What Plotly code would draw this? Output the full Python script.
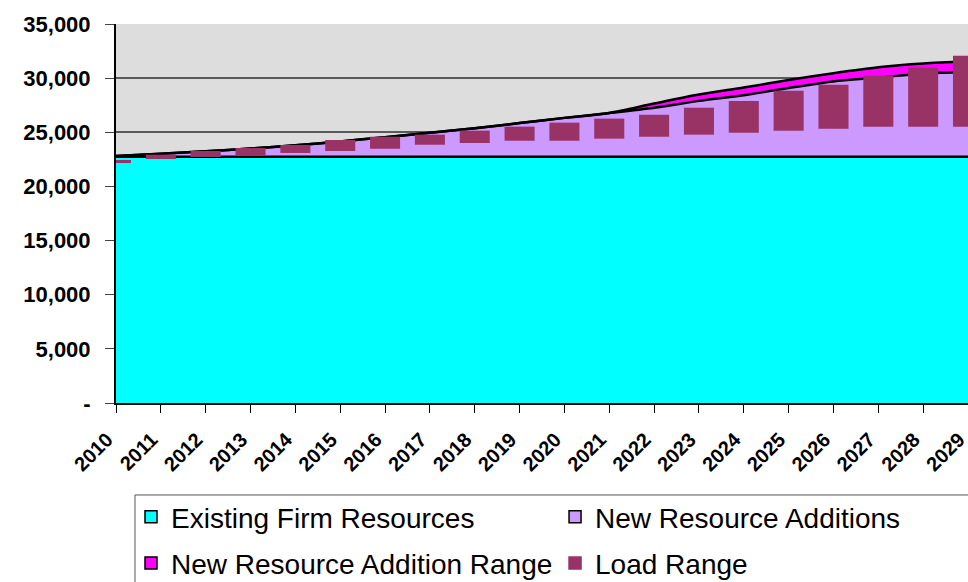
import numpy as np
import plotly.graph_objects as go

years = ["2010", "2011", "2012", "2013", "2014", "2015", "2016", "2017", "2018", "2019",
         "2020", "2021", "2022", "2023", "2024", "2025", "2026", "2027", "2028", "2029"]

existing_firm = [22750, 22750, 22750, 22750, 22750, 22750, 22750, 22750, 22750, 22750,
                 22750, 22750, 22750, 22750, 22750, 22750, 22750, 22750, 22750, 22750]
new_additions = [50, 270, 500, 750, 1050, 1400, 1800, 2200, 2630, 3100,
                 3580, 4030, 4520, 5150, 5670, 6350, 6950, 7300, 7680, 7820]
addition_range = [0, 0, 0, 0, 0, 0, 0, 0, 0, 0,
                  0, 0, 380, 580, 710, 720, 750, 950, 920, 980]
load_low = [22160, 22530, 22720, 22900, 23090, 23270, 23480, 23850, 24010, 24220,
            24220, 24410, 24590, 24780, 24960, 25150, 25330, 25520, 25520, 25520]
load_high = [22440, 22930, 23270, 23550, 23830, 24290, 24590, 24780, 25150, 25520,
             25890, 26260, 26620, 27270, 27900, 28840, 29400, 30230, 30960, 32070]

y_ticks = [0, 5000, 10000, 15000, 20000, 25000, 30000, 35000]
y_ticktext = ["-", "5,000", "10,000", "15,000", "20,000", "25,000", "30,000", "35,000"]

# (name, colour, border colour, legend id, rank)
legend_items = [
    ("Existing Firm Resources", "#00FFFF", "black", "legend", 1),
    ("New Resource Addition Range", "#FF00FF", "black", "legend", 2),
    ("New Resource Additions", "#CC99FF", "black", "legend2", 1),
    ("Load Range", "#993366", "#993366", "legend2", 2),
]

top_existing = np.array(existing_firm, dtype=float)
top_additions = top_existing + np.array(new_additions)
top_range = top_additions + np.array(addition_range)
load_span = np.array(load_high) - np.array(load_low)

fig = go.Figure()
fig.add_trace(go.Scatter(x=years, y=top_existing, mode="lines",
                         line=dict(color="black", width=2.5),
                         fill="tozeroy", fillcolor="#00FFFF", showlegend=False,
                         hoverinfo="skip"))
fig.add_trace(go.Scatter(x=years, y=top_additions, mode="lines",
                         line=dict(color="black", width=2.5, shape="spline", smoothing=0.8),
                         fill="tonexty", fillcolor="#CC99FF", showlegend=False,
                         hoverinfo="skip"))
fig.add_trace(go.Scatter(x=years, y=top_range, mode="lines",
                         line=dict(color="black", width=2.5, shape="spline", smoothing=0.8),
                         fill="tonexty", fillcolor="#FF00FF", showlegend=False,
                         hoverinfo="skip"))

fig.add_trace(go.Bar(x=years, y=load_span, base=load_low, width=0.67,
                     marker=dict(color="#993366", line=dict(width=0)),
                     xaxis="x2", yaxis="y2", name="Load Range", showlegend=False))

for name, color, border, leg, rank in legend_items:
    fig.add_trace(go.Bar(x=[None], y=[None], name=name, legend=leg, legendrank=rank,
                         legendgroup=name,
                         marker=dict(color=color, line=dict(color=border, width=1.5)),
                         xaxis="x2", yaxis="y2"))

legend_common = dict(orientation="v", yanchor="top", xanchor="left",
                     bgcolor="rgba(0,0,0,0)", borderwidth=0,
                     font=dict(size=28), tracegroupgap=7, traceorder="grouped")

fig.update_layout(
    width=968, height=582,
    margin=dict(l=116, r=0, t=24, b=179, autoexpand=False),
    paper_bgcolor="white", plot_bgcolor="#DDDDDD",
    barmode="overlay",
    font=dict(family="Arial, Liberation Sans, sans-serif", color="black"),
    xaxis=dict(type="category", categoryorder="array", categoryarray=years,
               range=[0, 19], showgrid=False, showline=True, linecolor="black",
               linewidth=2, ticks="outside", ticklen=8, tickcolor="black",
               tickangle=-45, ticklabelstandoff=7, ticklabelshift=-9,
               tickfont=dict(size=20, weight="bold")),
    yaxis=dict(range=[0, 35000], tickmode="array", tickvals=y_ticks, ticktext=y_ticktext,
               showgrid=True, gridcolor="#5a5a5a", gridwidth=1.5, zeroline=False,
               showline=True, linecolor="black", linewidth=2, ticks="outside",
               ticklen=9, tickcolor="#444", ticklabelstandoff=10,
               tickfont=dict(size=22, weight="bold")),
    xaxis2=dict(type="category", categoryorder="array", categoryarray=years,
                overlaying="x", range=[0, 19], visible=False),
    yaxis2=dict(overlaying="y", range=[0, 35000], visible=False),
    legend=dict(x=0.0176, y=-0.2348, **legend_common),
    legend2=dict(x=0.5153, y=-0.2348, **legend_common),
    shapes=[dict(type="rect", xref="paper", yref="paper", x0=0.0223, x1=1.2,
                 y0=-0.2427, y1=-0.7, line=dict(color="#555555", width=1),
                 fillcolor="rgba(0,0,0,0)", layer="below")],
)

fig.write_html("out.html", config={"displayModeBar": False},
               post_script="document.body.style.margin='0';")
